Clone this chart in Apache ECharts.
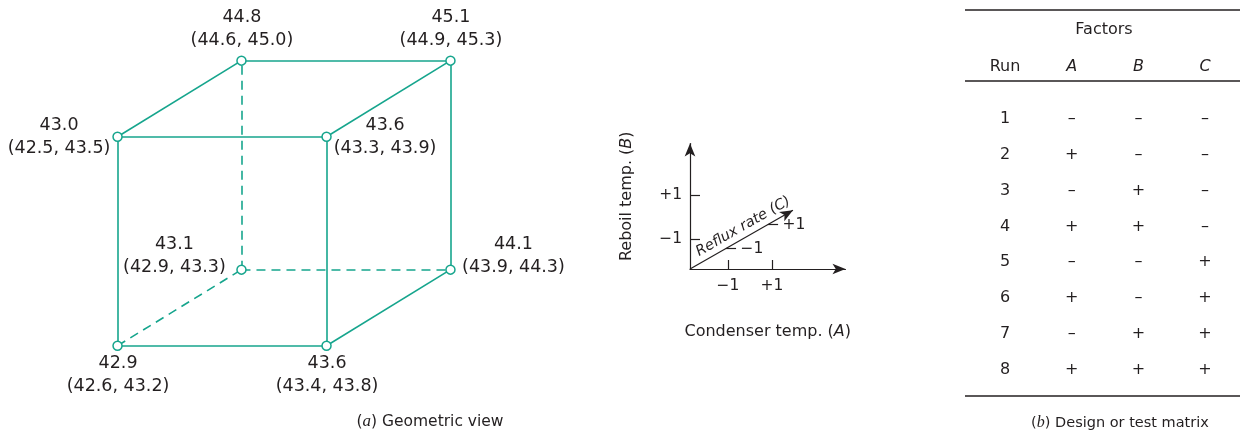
<!DOCTYPE html>
<html><head><meta charset="utf-8">
<script src="https://cdn.jsdelivr.net/npm/echarts@6/dist/echarts.min.js"></script>
<style>html,body{margin:0;padding:0;background:#fff}#c{width:1240px;height:435px}</style>
</head><body><div id="c"></div>
<script>
// ---------------- data ----------------
const runs = [1, 2, 3, 4, 5, 6, 7, 8];
const factorA = [-1, 1, -1, 1, -1, 1, -1, 1];
const factorB = [-1, -1, 1, 1, -1, -1, 1, 1];
const factorC = [-1, -1, -1, -1, 1, 1, 1, 1];
const meanResponse = [42.9, 43.6, 43.0, 43.6, 43.1, 44.1, 44.8, 45.1];
const intervalLow = [42.6, 43.4, 42.5, 43.3, 42.9, 43.9, 44.6, 44.9];
const intervalHigh = [43.2, 43.8, 43.5, 43.9, 43.3, 44.3, 45.0, 45.3];
const tableColumns = ['Run', 'A', 'B', 'C'];
const levelTickValues = [-1, 1];
const levelTickLabels = ['\u22121', '+1'];
const levelSigns = {'-1': '\u2013', '1': '+'};

// ---------------- styles ----------------
const TEAL = '#16a58d';
const INK = '#231f20';
const FONT = 'DejaVu Sans';
const SERIF = 'Liberation Serif';

// oblique projection for the cube (depth direction of factor C)
const DEPTH = [0.593, 0.364];
function project(a, b, c) { return [a + DEPTH[0] * c, b + DEPTH[1] * c]; }
const cubePts = runs.map((r, i) => project(factorA[i], factorB[i], factorC[i]));

// edges = pairs of runs differing in exactly one factor
const hiddenIdx = runs.findIndex((r, i) => factorA[i] < 0 && factorB[i] < 0 && factorC[i] > 0);
const solidEdges = [], hiddenEdges = [];
for (let i = 0; i < runs.length; i++) {
  for (let j = i + 1; j < runs.length; j++) {
    const d = (factorA[i] !== factorA[j]) + (factorB[i] !== factorB[j]) + (factorC[i] !== factorC[j]);
    if (d !== 1) continue;
    const e = {coords: [cubePts[i], cubePts[j]]};
    (i === hiddenIdx || j === hiddenIdx ? hiddenEdges : solidEdges).push(e);
  }
}

function labelOffset(a, b, c) {
  if (b > 0 && c > 0) return [0.5, -32];
  if (b > 0 && c < 0) return [a < 0 ? -58.5 : 58.5, 0.5];
  if (b < 0 && c > 0) return [a < 0 ? -67 : 63, -14];
  return [0.5, 29];
}

const cubeData = runs.map((r, i) => ({
  value: cubePts[i],
  name: meanResponse[i].toFixed(1) + '\n(' + intervalLow[i].toFixed(1) + ', ' + intervalHigh[i].toFixed(1) + ')',
  label: {offset: labelOffset(factorA[i], factorB[i], factorC[i])}
}));

// ---------------- inset axes ----------------
const INSET = {xMin: -2.727, xMax: 4.34, yMin: -2.364, yMax: 3.34};
const reflux = {start: -2.7, end: 2.2, vec: [0.955, 0.545], tick: 0.47};
function cPoint(c) {
  return [INSET.xMin + (c - reflux.start) * reflux.vec[0], INSET.yMin + (c - reflux.start) * reflux.vec[1]];
}
const refluxTicks = levelTickValues.map(v => {
  const p = cPoint(v);
  return [{coord: p, symbol: 'none', label: {show: false}}, {coord: [p[0] + reflux.tick, p[1]], symbol: 'none', label: {show: false}}];
});
const refluxTickLabels = levelTickValues.map((v, k) => {
  const p = cPoint(v);
  return {value: [p[0] + reflux.tick, p[1]], name: levelTickLabels[k]};
});

// ---------------- table ----------------
const tableData = [];
runs.forEach((r, i) => {
  tableData.push({value: [0, i], name: String(r)});
  [factorA, factorB, factorC].forEach((f, k) => tableData.push({value: [k + 1, i], name: levelSigns[String(f[i])]}));
});

const axisLineStyle = {color: INK, width: 1.2};

const option = {
  animation: false,
  backgroundColor: '#fff',
  textStyle: {fontFamily: FONT, color: INK},
  grid: [
    {left: 75, top: 4.65, width: 418, height: 397.1},
    {left: 690, top: 143.5, width: 155.5, height: 125.5},
    {left: 971.7, top: 101.4, width: 266.7, height: 286}
  ],
  xAxis: [
    {gridIndex: 0, type: 'value', min: -2, max: 2, show: false},
    {gridIndex: 1, type: 'value', min: INSET.xMin, max: INSET.xMax,
      axisLine: {show: true, onZero: false, symbol: ['none', 'arrow'], symbolSize: [8, 13], lineStyle: axisLineStyle},
      axisTick: {show: true, inside: true, length: 9, customValues: levelTickValues, lineStyle: axisLineStyle},
      axisLabel: {show: true, customValues: levelTickValues, margin: 9, fontSize: 15.5, color: INK, fontFamily: FONT,
        formatter: v => levelTickLabels[levelTickValues.indexOf(v)]},
      splitLine: {show: false},
      name: 'Condenser temp. ({i|A})', nameLocation: 'middle', nameGap: 55,
      nameTextStyle: {fontSize: 16, color: INK, fontFamily: FONT, rich: {i: {fontStyle: 'italic', fontSize: 16, color: INK, fontFamily: FONT}}}
    },
    {gridIndex: 2, type: 'category', data: tableColumns, position: 'top',
      axisLine: {show: false}, axisTick: {show: false}, splitLine: {show: false},
      axisLabel: {show: true, margin: 24.3, fontSize: 16, lineHeight: 20, color: INK, fontFamily: FONT,
        formatter: v => v === 'Run' ? v : '{i|' + v + '}',
        rich: {i: {fontStyle: 'italic', fontSize: 16, lineHeight: 20, color: INK, fontFamily: FONT}}}
    }
  ],
  yAxis: [
    {gridIndex: 0, type: 'value', min: -1.9, max: 1.9, show: false},
    {gridIndex: 1, type: 'value', min: INSET.yMin, max: INSET.yMax,
      axisLine: {show: true, onZero: false, symbol: ['none', 'arrow'], symbolSize: [8, 13], lineStyle: axisLineStyle},
      axisTick: {show: true, inside: true, length: 10, customValues: levelTickValues, lineStyle: axisLineStyle},
      axisLabel: {show: true, customValues: levelTickValues, margin: 8, fontSize: 15.5, color: INK, fontFamily: FONT,
        formatter: v => levelTickLabels[levelTickValues.indexOf(v)]},
      splitLine: {show: false},
      name: 'Reboil temp. ({i|B})', nameLocation: 'middle', nameGap: 55, nameRotate: 90,
      nameTextStyle: {fontSize: 16, color: INK, fontFamily: FONT, padding: [0, 0, 0, 20],
        rich: {i: {fontStyle: 'italic', fontSize: 16, color: INK, fontFamily: FONT}}}
    },
    {gridIndex: 2, type: 'category', data: runs.map(String), inverse: true, show: false}
  ],
  series: [
    {type: 'lines', coordinateSystem: 'cartesian2d', xAxisIndex: 0, yAxisIndex: 0, silent: true, z: 2,
      lineStyle: {color: TEAL, width: 1.6, type: 'solid', opacity: 1}, data: solidEdges},
    {type: 'lines', coordinateSystem: 'cartesian2d', xAxisIndex: 0, yAxisIndex: 0, silent: true, z: 2,
      lineStyle: {color: TEAL, width: 1.6, type: [9, 6], opacity: 1}, data: hiddenEdges},
    {type: 'scatter', xAxisIndex: 0, yAxisIndex: 0, z: 5, silent: true,
      symbol: 'circle', symbolSize: 9,
      itemStyle: {color: '#fff', borderColor: TEAL, borderWidth: 1.5, opacity: 1},
      label: {show: true, position: 'inside', align: 'center', verticalAlign: 'middle', formatter: '{b}',
        fontSize: 17.5, lineHeight: 23, color: INK, fontFamily: FONT, textBorderWidth: 0, opacity: 1},
      emphasis: {disabled: true},
      data: cubeData},
    {type: 'scatter', xAxisIndex: 1, yAxisIndex: 1, silent: true, symbolSize: 1,
      itemStyle: {color: 'rgba(0,0,0,0)', opacity: 1},
      label: {show: true, position: 'right', distance: 4, formatter: '{b}', fontSize: 15.5, color: INK, fontFamily: FONT, opacity: 1},
      emphasis: {disabled: true},
      data: refluxTickLabels,
      markLine: {silent: true, animation: false, symbol: ['none', 'arrow'], symbolSize: [8, 13],
        lineStyle: {color: INK, width: 1.2, type: 'solid', opacity: 1},
        emphasis: {disabled: true},
        label: {show: true},
        data: [
          [{coord: cPoint(reflux.start), symbol: 'none'},
           {coord: cPoint(reflux.end), symbol: 'arrow',
            label: {show: true, position: 'insideMiddleTop', formatter: 'Reflux rate (C)', distance: 3,
              fontStyle: 'italic', fontSize: 14.5, color: INK, fontFamily: FONT, padding: [0, 0, 0, 16]}}]
        ].concat(refluxTicks)
      }},
    {type: 'scatter', xAxisIndex: 2, yAxisIndex: 2, silent: true, symbolSize: 1,
      itemStyle: {color: 'rgba(0,0,0,0)', opacity: 1},
      label: {show: true, position: 'inside', formatter: '{b}', fontSize: 16, color: INK, fontFamily: FONT, textBorderWidth: 0, opacity: 1},
      emphasis: {disabled: true},
      data: tableData}
  ],
  graphic: [
    {type: 'line', shape: {x1: 965, y1: 10, x2: 1240, y2: 10}, style: {stroke: INK, lineWidth: 1.6}, silent: true},
    {type: 'line', shape: {x1: 965, y1: 81, x2: 1240, y2: 81}, style: {stroke: INK, lineWidth: 1.6}, silent: true},
    {type: 'line', shape: {x1: 965, y1: 396, x2: 1240, y2: 396}, style: {stroke: INK, lineWidth: 1.6}, silent: true},
    {type: 'text', x: 1104, y: 30, silent: true,
      style: {text: 'Factors', fill: INK, font: '16px "DejaVu Sans"', textAlign: 'center', textVerticalAlign: 'middle'}},
    {type: 'text', x: 1120, y: 423, silent: true,
      style: {text: '({i|b}) Design or test matrix', fill: INK, font: '14.5px "DejaVu Sans"', textAlign: 'center', textVerticalAlign: 'middle',
        rich: {i: {fontStyle: 'italic', fontFamily: SERIF, fontSize: 16, fill: INK}}}},
    {type: 'text', x: 430, y: 422, silent: true,
      style: {text: '({i|a}) Geometric view', fill: INK, font: '15.5px "DejaVu Sans"', textAlign: 'center', textVerticalAlign: 'middle',
        rich: {i: {fontStyle: 'italic', fontFamily: SERIF, fontSize: 17, fill: INK}}}}
  ]
};

const chart = echarts.init(document.getElementById('c'), null, {renderer: 'canvas'});
chart.setOption(option);
</script>
</body></html>
